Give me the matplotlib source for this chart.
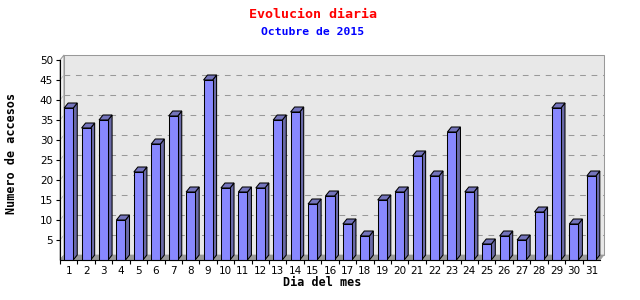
import matplotlib
matplotlib.use("Agg")
import matplotlib.pyplot as plt
from matplotlib.patches import Polygon

days = list(range(1, 32))
accesses = [38, 33, 35, 10, 22, 29, 36, 17, 45, 18, 17, 18, 35, 37, 14, 16,
            9, 6, 15, 17, 26, 21, 32, 17, 4, 6, 5, 12, 38, 9, 21]
y_ticks = [5, 10, 15, 20, 25, 30, 35, 40, 45, 50]
title = "Evolucion diaria"
subtitle = "Octubre de 2015"
xlabel = "Dia del mes"
ylabel = "Numero de accesos"

W, H = 640, 300
fig = plt.figure(figsize=(6.4, 3.0), dpi=100)
fig.patch.set_facecolor("white")

# front plane in pixels
L, R, T, B = 60, 600, 60, 260
ax = fig.add_axes([L / W, (H - B) / H, (R - L) / W, (B - T) / H])
ax.set_xlim(0.5, 31.5)
ax.set_ylim(0, 50)
ax.patch.set_visible(False)
for s in ["top", "right"]:
    ax.spines[s].set_visible(False)
for s in ["left", "bottom"]:
    ax.spines[s].set_color("black")
    ax.spines[s].set_linewidth(0.8)
    ax.spines[s].set_zorder(4)

# depth offset (pixels -> data)
dxp, dyp = 4, 5
dx = dxp * 31 / (R - L)
dy = dyp * 50 / (B - T)

LW = 0.75
x0, x1 = 0.5, 31.5
# back wall
ax.add_patch(Polygon([(x0 + dx, dy), (x1 + dx, dy), (x1 + dx, 50 + dy), (x0 + dx, 50 + dy)],
                     closed=True, facecolor="#e8e8e8", edgecolor="#999999", lw=LW,
                     clip_on=False, zorder=0))
# left wall
ax.add_patch(Polygon([(x0, 0), (x0 + dx, dy), (x0 + dx, 50 + dy), (x0, 50)],
                     closed=True, facecolor="#f2f2f2", edgecolor="#999999", lw=LW,
                     clip_on=False, zorder=0.5))
# floor
ax.add_patch(Polygon([(x0, 0), (x1, 0), (x1 + dx, dy), (x0 + dx, dy)],
                     closed=True, facecolor="#9a9a9a", edgecolor="#9a9a9a", lw=0.5,
                     clip_on=False, zorder=0.6))
# gridlines
for v in y_ticks[:-1]:
    ax.plot([x0 + dx, x1 + dx], [v + dy, v + dy], color="#999999", lw=LW,
            ls=(0, (5.5, 5.5)), zorder=0.7, clip_on=False)
    ax.plot([x0, x0 + dx], [v, v + dy], color="#bbbbbb", lw=0.6, zorder=0.7, clip_on=False)

# bars
w = 0.52
front_c, side_c, top_c = "#8888ff", "#6a6aa8", "#7474bc"
for d, v in zip(days, accesses):
    a, b = d - w / 2, d + w / 2
    ax.add_patch(Polygon([(b, 0), (b + dx, dy), (b + dx, v + dy), (b, v)], closed=True,
                         facecolor=side_c, edgecolor="black", lw=LW, clip_on=False, zorder=2))
    ax.add_patch(Polygon([(a, v), (b, v), (b + dx, v + dy), (a + dx, v + dy)], closed=True,
                         facecolor=top_c, edgecolor="black", lw=LW, clip_on=False, zorder=2))
    ax.add_patch(Polygon([(a, 0), (b, 0), (b, v), (a, v)], closed=True,
                         facecolor=front_c, edgecolor="black", lw=LW, clip_on=False, zorder=3))

# ticks
ax.set_yticks(y_ticks)
ax.set_yticklabels([str(t) for t in y_ticks])
ax.set_xticks(days)
ax.set_xticklabels([str(d) for d in days])
ax.set_xticks([d + 0.5 for d in days[:-1]] + [0.5], minor=True)
ax.tick_params(axis="x", which="major", length=0, pad=4, labelsize=7.5, colors="black")
ax.tick_params(axis="x", which="minor", length=3, width=0.8, direction="out", color="black")
ax.tick_params(axis="y", which="major", length=3, width=0.8, pad=2, labelsize=7.5)

mono = "DejaVu Sans Mono"
fig.text(313 / W, 1 - 14 / H, title, color="red", ha="center", va="center",
         fontsize=9.6, family=mono, fontweight="bold")
fig.text(313 / W, 1 - 32 / H, subtitle, color="blue", ha="center", va="center",
         fontsize=8.2, family=mono, fontweight="bold")
fig.text(322 / W, 1 - 282 / H, xlabel, color="black", ha="center", va="center",
         fontsize=8.5, family=mono, fontweight="bold")
fig.text(12 / W, 1 - 153 / H, ylabel, color="black", ha="center", va="center",
         rotation=90, fontsize=8.5, family=mono, fontweight="bold")

fig.savefig("out.png", dpi=100, facecolor="white")
